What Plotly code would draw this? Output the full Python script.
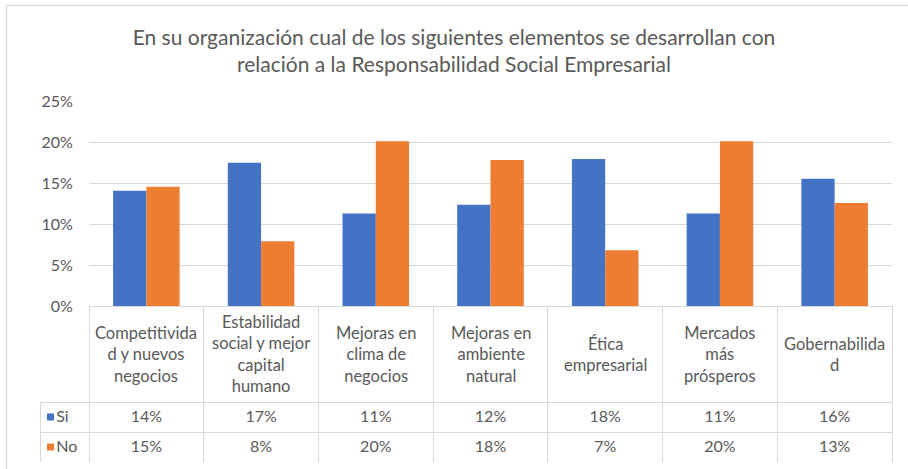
import plotly.graph_objects as go

categorias = ['Competitividad y nuevos negocios', 'Estabilidad social y mejor capital humano',
              'Mejoras en clima de negocios', 'Mejoras en ambiente natural',
              'Ética empresarial', 'Mercados más prósperos', 'Gobernabilidad']
etiquetas = ['Competitivida<br>d y nuevos<br>negocios', 'Estabilidad<br>social y mejor<br>capital<br>humano',
             'Mejoras en<br>clima de<br>negocios', 'Mejoras en<br>ambiente<br>natural',
             'Ética<br>empresarial', 'Mercados<br>más<br>prósperos', 'Gobernabilida<br>d']
si = [0.1406, 0.1748, 0.1128, 0.1235, 0.1793, 0.1128, 0.1552]
no = [0.1455, 0.0790, 0.2009, 0.1780, 0.0680, 0.2009, 0.1255]
series = ['Si', 'No']
colores = ['#4472C4', '#ED7D31']

gris = '#595959'
linea = '#d9d9d9'
fuente = 'Lato'

W, H = 908, 469
ml, mr, mt, mb = 40, 16, 101, 7
pw, ph = W - ml - mr, H - mt - mb
# pixel -> paper helpers
px = lambda x: (x - ml) / pw
py = lambda y: (H - mb - y) / ph

fig = go.Figure()
for nombre, vals, c in zip(series, [si, no], colores):
    fig.add_trace(go.Bar(x=categorias, y=vals, name=nombre, marker=dict(color=c, line=dict(width=0)),
                         showlegend=False))

# data table under the chart
leyenda = ['\u00a0\u00a0' + s for s in series]
cols = [leyenda] + [[a, b] for a, b in zip(si, no)]
fig.add_trace(go.Table(
    domain=dict(x=[0, 1], y=[0, py(306)]),
    columnwidth=[49] + [114.7] * 7,
    header=dict(values=[''] * 8, height=96, fill_color=['rgba(0,0,0,0)'] + ['white'] * 7,
                line=dict(color=['rgba(0,0,0,0)'] + [linea] * 7, width=1)),
    cells=dict(values=cols, height=30, format=[''] + ['.0%'] * 7,
               align=['left'] + ['center'] * 7, fill_color='white',
               line=dict(color=linea, width=1),
               font=dict(family=fuente, size=16, color=gris)),
))

for cat, lab in zip(categorias, etiquetas):
    fig.add_annotation(x=cat, xref='x', y=py(354), yref='paper', text=lab, showarrow=False,
                       yanchor='middle', align='center', font=dict(family=fuente, size=16.5, color=gris))

# legend keys in the table's first column
formas = []
for i, c in enumerate(colores):
    yc = 417 + 30 * i
    formas.append(dict(type='rect', xref='paper', yref='paper', x0=px(47), x1=px(54),
                       y0=py(yc + 3.5), y1=py(yc - 3.5), fillcolor=c, line=dict(width=0)))

fig.update_layout(
    width=W, height=H,
    margin=dict(l=ml, r=mr, t=mt, b=mb, autoexpand=False),
    paper_bgcolor='white', plot_bgcolor='white',
    barmode='group', bargap=0.42, bargroupgap=0,
    title=dict(text='En su organización cual de los siguientes elementos se desarrollan con<br>'
                    'relación a la Responsabilidad Social Empresarial',
               x=0.5, xanchor='center', y=1 - 45 / H, yanchor='top',
               font=dict(family=fuente, size=21, color=gris)),
    xaxis=dict(domain=[px(89), 1], showticklabels=False, showgrid=False, showline=False, ticks='',
               automargin=False),
    yaxis=dict(domain=[py(306), 1], range=[0, 0.25], dtick=0.05, tickformat='.0%',
               showgrid=True, gridcolor=linea, gridwidth=1, zeroline=False, showline=False,
               ticks='outside', ticklen=12, tickcolor='rgba(0,0,0,0)', automargin=False,
               tickfont=dict(family=fuente, size=16, color=gris)),
    shapes=formas + [
        dict(type='line', xref='paper', yref='paper', x0=px(6.5), x1=px(908), y0=py(5.5), y1=py(5.5),
             line=dict(color=linea, width=1.5)),
        dict(type='line', xref='paper', yref='paper', x0=px(6.5), x1=px(6.5), y0=py(5.5), y1=py(469),
             line=dict(color=linea, width=1.5)),
    ],
)

fig.write_html("out.html", config={'displayModeBar': False},
               post_script="document.body.style.margin='0';")
